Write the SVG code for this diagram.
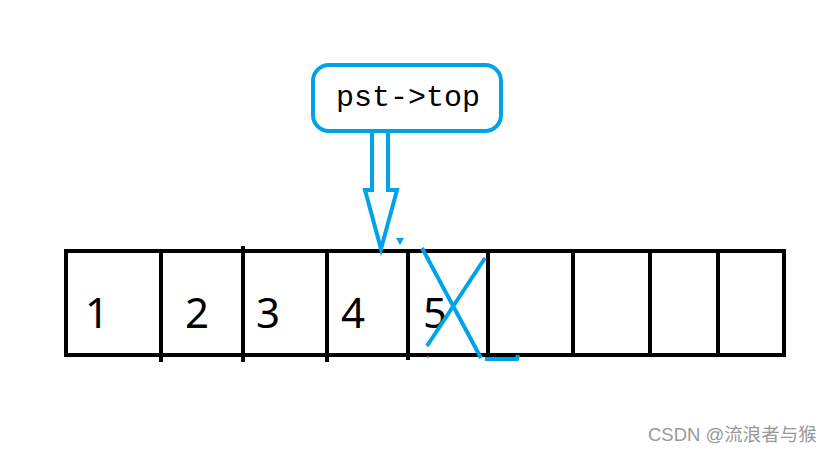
<svg xmlns="http://www.w3.org/2000/svg" width="834" height="453" viewBox="0 0 834 453">
<style>
.cell{fill:none;stroke:#000;stroke-width:4}
.div{stroke:#000;stroke-width:4}
.blue{fill:none;stroke:#00a2e8;stroke-width:4;stroke-linejoin:miter}
.num{font-family:"Noto Sans","Open Sans",sans-serif;font-size:42px;fill:#000}
.lbl{font-family:"Liberation Mono","DejaVu Sans Mono",monospace;font-size:30px;fill:#000}
.wm{font-family:"Liberation Sans","Noto Sans CJK SC",sans-serif;font-size:18.5px;fill:#999}
</style>
<rect width="834" height="453" fill="#fff"/>
<g id="array">
<rect class="cell" x="66" y="251" width="718" height="104"/>
<line class="div" x1="161" y1="251" x2="161" y2="362"/>
<line class="div" x1="243" y1="246" x2="243" y2="362"/>
<line class="div" x1="327" y1="251" x2="327" y2="362"/>
<line class="div" x1="408" y1="251" x2="408" y2="360"/>
<line class="div" x1="488" y1="251" x2="488" y2="357"/>
<line class="div" x1="573" y1="251" x2="573" y2="355"/>
<line class="div" x1="650" y1="251" x2="650" y2="355"/>
<line class="div" x1="718" y1="251" x2="718" y2="355"/>
<text class="num" x="97" y="328" text-anchor="middle">1</text>
<text class="num" x="197" y="328" text-anchor="middle">2</text>
<text class="num" x="268" y="328" text-anchor="middle">3</text>
<text class="num" x="353" y="328" text-anchor="middle">4</text>
<text class="num" x="435" y="328" text-anchor="middle">5</text>
</g>
<g id="label">
<rect class="blue" x="313" y="65" width="188" height="66" rx="16" stroke-width="5"/>
<text class="lbl" x="408" y="106" text-anchor="middle">pst-&gt;top</text>
</g>
<g id="connectors">
<path class="blue" d="M372,131 L372,190 L365,190 L381,249 L397,190 L388,190 L388,131"/>
<path d="M396,238 L404,238 L400,245 Z" fill="#00a2e8"/>
<line class="blue" x1="422" y1="248" x2="481" y2="358"/>
<line class="blue" x1="485" y1="258" x2="427" y2="346"/>
<path class="blue" d="M485,359 L517,359 L518,355"/>
<path d="M427,356 L429,356 L428,359 Z" fill="#e33"/>
</g>
<text class="wm" x="648" y="441">CSDN @流浪者与猴</text>
</svg>
